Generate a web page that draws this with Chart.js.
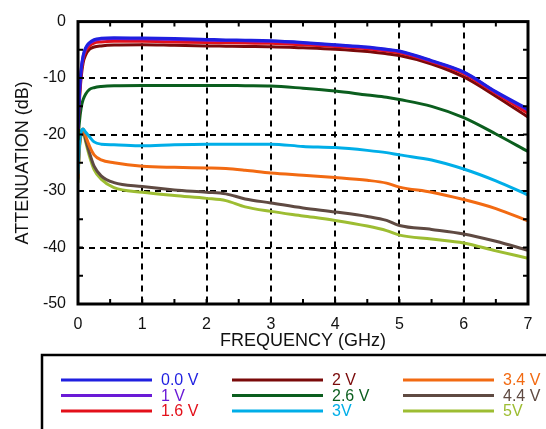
<!DOCTYPE html>
<html>
<head>
<meta charset="utf-8">
<script src="https://cdn.jsdelivr.net/npm/chart.js@4.4.1/dist/chart.umd.min.js"></script>
<style>
  html, body { margin: 0; padding: 0; background: #fff; }
  #wrap { width: 546px; height: 429px; }
</style>
</head>
<body>
<div id="wrap"><canvas id="attChart" width="546" height="429"></canvas></div>
<script>
// frequency points (GHz)
const freqs = [0, 0.02, 0.05, 0.08, 0.12, 0.18, 0.25, 0.36, 0.56, 1, 1.5, 2, 2.3, 2.6, 3, 3.5, 4, 4.5, 4.8, 5, 5.5, 6, 6.5, 7];

// attenuation (dB) per control voltage
const v00 = [-19, -13, -8.3, -6.0, -4.6, -3.7, -3.2, -2.95, -2.85, -2.9, -3.0, -3.15, -3.25, -3.3, -3.4, -3.7, -4.1, -4.5, -4.9, -5.2, -6.9, -8.9, -12.4, -15.5];
const v10 = [-19, -13.3, -8.6, -6.2, -4.8, -3.85, -3.35, -3.1, -3.0, -3.05, -3.15, -3.3, -3.35, -3.4, -3.5, -3.8, -4.2, -4.6, -5.0, -5.3, -7.0, -9.0, -12.5, -15.7];
const v16 = [-19, -13.8, -9.0, -6.6, -5.2, -4.3, -3.8, -3.6, -3.5, -3.5, -3.6, -3.7, -3.75, -3.8, -3.85, -4.1, -4.4, -4.8, -5.2, -5.5, -7.1, -9.2, -12.7, -16.2];
const v20 = [-19.5, -14.5, -9.8, -7.3, -5.9, -4.9, -4.5, -4.3, -4.15, -4.1, -4.2, -4.3, -4.35, -4.4, -4.45, -4.65, -4.9, -5.3, -5.7, -6.0, -7.5, -9.8, -13.2, -16.9];
const v26 = [-21, -18, -15.2, -13.8, -12.8, -12.0, -11.7, -11.5, -11.35, -11.3, -11.3, -11.3, -11.3, -11.35, -11.4, -11.8, -12.3, -13.0, -13.4, -13.8, -15.0, -17.0, -19.9, -23.0];
const v30 = [-27, -22, -19.5, -19.0, -19.6, -20.4, -21.3, -21.7, -21.8, -22.0, -21.8, -21.7, -21.7, -21.7, -21.7, -22.1, -22.3, -22.8, -23.2, -23.6, -24.5, -26.1, -28.2, -30.7];
const v34 = [-27.5, -22, -19.6, -19.0, -20.3, -22.1, -23.6, -24.5, -25.0, -25.6, -25.8, -25.9, -26.0, -26.3, -26.8, -27.2, -27.6, -28.1, -28.6, -29.3, -30.2, -31.5, -33.1, -35.3];
const v44 = [-28, -22.5, -19.8, -19.2, -21.0, -23.3, -25.6, -27.3, -28.5, -29.2, -29.8, -30.2, -30.5, -31.4, -32.1, -33.0, -33.7, -34.5, -35.2, -36.1, -36.8, -37.6, -38.9, -40.5];
const v50 = [-28.5, -23, -20.0, -19.4, -21.3, -23.9, -26.2, -27.9, -29.4, -30.2, -30.8, -31.3, -31.7, -32.8, -33.6, -34.4, -35.2, -36.2, -37.0, -37.8, -38.5, -39.2, -40.6, -41.9];

const seriesLabels = ['0.0 V', '1 V', '1.6 V', '2 V', '2.6 V', '3V', '3.4 V', '4.4 V', '5V'];
const seriesValues = [v00, v10, v16, v20, v26, v30, v34, v44, v50];
const seriesColors = ['#1f1fe0', '#6a1ad6', '#e3101a', '#7a0a0a', '#0b5e1e', '#00aee8', '#f26a12', '#5f4a42', '#9dbd32'];

const xTicks = [0, 1, 2, 3, 4, 5, 6, 7];
const yTicks = [0, -10, -20, -30, -40, -50];

Chart.defaults.font.family = '"Liberation Sans", Arial, Helvetica, sans-serif';
Chart.defaults.color = '#111';

const datasets = seriesValues.map((vals, i) => ({
  label: seriesLabels[i],
  data: freqs.map((f, j) => ({ x: f, y: vals[j] })),
  borderColor: seriesColors[i],
  backgroundColor: seriesColors[i],
  borderWidth: 3,
  pointRadius: 0,
  fill: false,
  cubicInterpolationMode: 'monotone'
}));

// frame + inward minor ticks
const framePlugin = {
  id: 'frame',
  afterDatasetsDraw(chart) {
    const { ctx, chartArea: a, scales: { x, y } } = chart;
    ctx.save();
    ctx.strokeStyle = '#000';
    ctx.lineWidth = 2;
    ctx.beginPath();
    for (let v = 0.5; v < 7; v += 0.5) {
      const px = x.getPixelForValue(v);
      ctx.moveTo(px, a.bottom); ctx.lineTo(px, a.bottom - 5);
      ctx.moveTo(px, a.top); ctx.lineTo(px, a.top + 5);
    }
    for (let v = -45; v < 0; v += 5) {
      const py = y.getPixelForValue(v);
      ctx.moveTo(a.left, py); ctx.lineTo(a.left + 5, py);
      ctx.moveTo(a.right, py); ctx.lineTo(a.right - 5, py);
    }
    ctx.stroke();
    ctx.lineWidth = 3;
    ctx.strokeRect(a.left, a.top, a.width, a.height);
    ctx.restore();
  }
};

// boxed 3-column legend under the plot
const boxLegend = {
  id: 'boxLegend',
  afterDraw(chart) {
    const ctx = chart.ctx;
    ctx.save();
    ctx.strokeStyle = '#000';
    ctx.lineWidth = 2.5;
    ctx.strokeRect(42, 355, 600, 200);
    ctx.font = '16px "Liberation Sans", Arial, sans-serif';
    ctx.textBaseline = 'middle';
    chart.data.datasets.forEach((ds, i) => {
      const col = Math.floor(i / 3), row = i % 3;
      const x0 = 61 + col * 171;
      const yy = 380 + row * 15.5;
      ctx.strokeStyle = ds.borderColor;
      ctx.lineWidth = 3;
      ctx.beginPath();
      ctx.moveTo(x0, yy); ctx.lineTo(x0 + 91, yy);
      ctx.stroke();
      ctx.fillStyle = ds.borderColor;
      ctx.fillText(ds.label, x0 + 100, yy + 1);
    });
    ctx.restore();
  }
};

const edgeColor = (lo, hi) => (c) => (c.tick && c.tick.value > lo && c.tick.value < hi) ? '#000' : 'rgba(0,0,0,0)';

new Chart(document.getElementById('attChart'), {
  type: 'line',
  data: { datasets: datasets },
  options: {
    responsive: false,
    animation: false,
    layout: { padding: { left: 0, top: 15, right: 18, bottom: 77 } },
    plugins: { legend: { display: false }, tooltip: { enabled: false } },
    scales: {
      x: {
        type: 'linear',
        min: 0, max: 7,
        afterBuildTicks: (s) => { s.ticks = xTicks.map(v => ({ value: v })); },
        afterFit: (s) => { s.height = 48; },
        ticks: { padding: 11, font: { size: 16 }, color: '#111' },
        grid: { color: edgeColor(0, 7), lineWidth: 2, drawTicks: false },
        border: { display: false, dash: [6, 5] },
        title: { display: true, text: 'FREQUENCY (GHz)', font: { size: 18 }, color: '#111', padding: { top: 0, bottom: 0 } }
      },
      y: {
        min: -50, max: 0,
        afterBuildTicks: (s) => { s.ticks = yTicks.map(v => ({ value: v })); },
        afterFit: (s) => { s.width = 78; },
        ticks: { padding: 12, font: { size: 16 }, color: '#111' },
        grid: { color: edgeColor(-50, 0), lineWidth: 2, drawTicks: false },
        border: { display: false, dash: [6, 5] },
        title: { display: true, text: 'ATTENUATION (dB)', font: { size: 18 }, color: '#111', padding: { top: 12, bottom: 0 } }
      }
    }
  },
  plugins: [framePlugin, boxLegend]
});
</script>
</body>
</html>
